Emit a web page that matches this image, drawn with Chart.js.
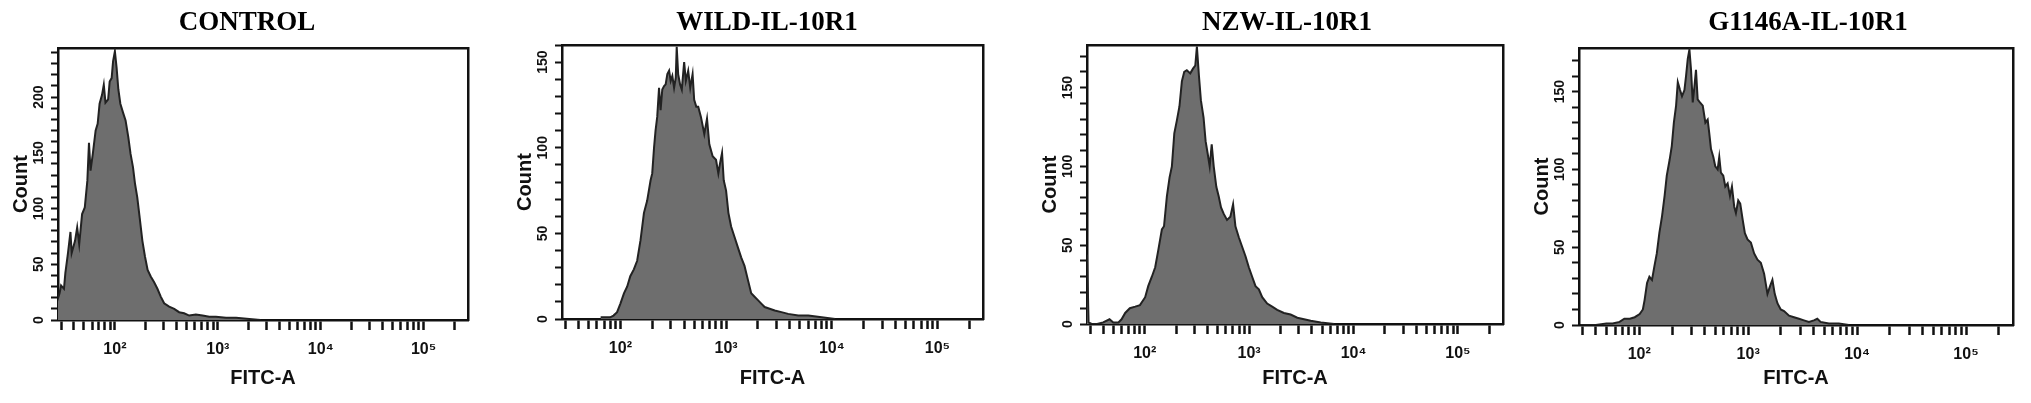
<!DOCTYPE html>
<html>
<head>
<meta charset="utf-8">
<script src="https://cdn.jsdelivr.net/npm/chart.js@4.4.1/dist/chart.umd.min.js"></script>
<style>
html, body { margin: 0; padding: 0; background: #fff; }
#wrap { position: relative; width: 2031px; height: 403px; overflow: hidden; }
#wrap canvas { position: absolute; top: 0; }
</style>
</head>
<body>
<div id="wrap"></div>
<script>
// panel titles
const panelTitles = ['CONTROL', 'WILD-IL-10R1', 'NZW-IL-10R1', 'G1146A-IL-10R1'];

// FITC-A channel values and counts
const ctrlX = [27, 29, 30, 32, 33, 35, 37, 38, 41, 43, 45, 48, 51, 54, 56, 58, 61, 65, 68, 71, 75, 78, 81, 86, 89, 93, 96, 100, 104, 108, 113, 120, 127, 135, 142, 150, 157, 165, 174, 185, 196, 208, 223, 240, 259, 279, 301, 337, 377, 421, 471, 527, 612, 711, 826, 959, 1202, 1506, 2028, 2600];
const ctrlY = [15, 24, 31, 28, 42, 60, 79, 60, 71, 83, 68, 95, 101, 125, 159, 134, 149, 170, 176, 194, 202, 211, 195, 198, 214, 217, 232, 241, 226, 207, 194, 186, 179, 164, 149, 137, 122, 110, 92, 71, 57, 45, 39, 34, 28, 21, 15, 12, 10, 7, 6, 4, 5, 4, 3, 3, 2, 2, 1, 0];

const wildX = [65, 80, 86, 93, 100, 108, 116, 124, 134, 144, 155, 167, 179, 193, 200, 208, 215, 223, 232, 240, 249, 259, 268, 278, 289, 299, 310, 322, 334, 341, 352, 367, 381, 401, 416, 438, 458, 482, 499, 522, 545, 578, 622, 660, 694, 746, 803, 845, 877, 916, 950, 1000, 1052, 1116, 1200, 1291, 1389, 1494, 1607, 1729, 1860, 2002, 2154, 2317, 2586, 2887, 3342, 3867, 4818, 6002, 8040, 10764];
const wildY = [1, 1, 2, 4, 9, 15, 19, 25, 29, 34, 46, 62, 69, 81, 85, 100, 110, 118, 135, 122, 134, 136, 137, 143, 145, 139, 142, 135, 141, 159, 143, 137, 134, 150, 139, 145, 135, 143, 128, 124, 124, 118, 108, 117, 102, 95, 93, 85, 91, 97, 81, 75, 62, 54, 48, 42, 36, 31, 23, 15, 13, 11, 9, 7, 6, 5, 4, 3, 2, 2, 1, 0];

const nzwX = [28, 29, 31, 35, 40, 46, 50, 56, 60, 65, 72, 81, 90, 101, 108, 117, 126, 135, 146, 153, 163, 173, 182, 192, 203, 215, 227, 239, 253, 273, 290, 305, 316, 331, 345, 366, 383, 401, 419, 438, 458, 485, 511, 538, 570, 614, 661, 702, 739, 796, 857, 923, 993, 1069, 1151, 1239, 1334, 1489, 1663, 1857, 2153, 2496, 2894, 3355, 3889, 4856, 6518];
const nzwY = [44, 1, 0, 0, 1, 3, 1, 1, 3, 7, 10, 11, 12, 17, 24, 30, 36, 47, 60, 62, 81, 93, 100, 121, 129, 138, 154, 160, 161, 159, 162, 164, 176, 157, 142, 131, 116, 108, 100, 114, 100, 87, 81, 74, 70, 66, 68, 76, 62, 55, 49, 43, 36, 30, 24, 22, 17, 13, 11, 9, 7, 6, 4, 3, 2, 1, 0];

const g1146aX = [29, 40, 50, 57, 66, 73, 82, 91, 101, 108, 112, 118, 124, 131, 138, 145, 153, 162, 171, 179, 190, 199, 208, 218, 226, 237, 247, 260, 269, 279, 289, 299, 310, 321, 332, 344, 361, 383, 405, 425, 440, 456, 479, 499, 525, 543, 562, 591, 617, 648, 681, 710, 745, 772, 811, 846, 889, 933, 987, 1059, 1135, 1218, 1307, 1401, 1504, 1589, 1670, 1754, 1857, 1991, 2136, 2373, 2636, 2928, 3252, 3613, 4015, 4313, 4624, 5509, 6800, 8399];
const g1146aY = [0, 0, 1, 1, 2, 4, 4, 5, 7, 10, 16, 27, 31, 29, 38, 46, 59, 70, 83, 96, 106, 115, 130, 141, 156, 151, 147, 151, 160, 171, 177, 164, 143, 153, 164, 145, 143, 141, 130, 132, 123, 113, 108, 102, 100, 108, 98, 96, 89, 91, 83, 89, 76, 72, 80, 78, 68, 59, 55, 53, 46, 42, 40, 33, 20, 25, 29, 20, 14, 10, 9, 6, 5, 4, 3, 2, 3, 4, 2, 1, 1, 0];

const seriesX = [ctrlX, wildX, nzwX, g1146aX];
const seriesY = [ctrlY, wildY, nzwY, g1146aY];
const countMax = [244, 160, 177, 178];

// log axis tick marks and the decade labels
const xTickValues = [30, 40, 50, 60, 70, 80, 90, 100, 200, 300, 400, 500, 600, 700, 800, 900,
  1000, 2000, 3000, 4000, 5000, 6000, 7000, 8000, 9000, 10000, 20000, 30000, 40000, 50000,
  60000, 70000, 80000, 90000, 100000, 200000];
const xMajorTicks = [100, 1000, 10000, 100000];
const xMajorLabels = ['10²', '10³', '10⁴', '10⁵'];

// where each panel sits on the page
const panelBoxes = [
  { left: 8,    width: 478, plotTop: 48, plotBottom: 320, rightW: 18 },
  { left: 512,  width: 510, plotTop: 45, plotBottom: 319, rightW: 39 },
  { left: 1037, width: 500, plotTop: 45, plotBottom: 324, rightW: 34 },
  { left: 1529, width: 558, plotTop: 48, plotBottom: 325, rightW: 74 }
];

const H = 403;
const sans = "'Liberation Sans', Arial, 'DejaVu Sans', sans-serif";
const ink = '#111';
const wrap = document.getElementById('wrap');

function makePanel(i) {
  const box = panelBoxes[i];
  const canvas = document.createElement('canvas');
  canvas.width = box.width;
  canvas.height = H;
  canvas.style.left = box.left + 'px';
  wrap.appendChild(canvas);

  const points = seriesX[i].map((x, k) => ({ x: x, y: seriesY[i][k] }));

  new Chart(canvas.getContext('2d'), {
    type: 'line',
    data: {
      datasets: [{
        data: points,
        fill: 'origin',
        backgroundColor: '#6e6e6e',
        borderColor: '#222',
        borderWidth: 2,
        pointRadius: 0,
        tension: 0
      }]
    },
    options: {
      responsive: false,
      animation: false,
      devicePixelRatio: 1,
      layout: { padding: 0 },
      plugins: {
        legend: { display: false },
        tooltip: { enabled: false },
        title: {
          display: true,
          text: panelTitles[i],
          color: '#000',
          font: { family: "'Liberation Serif', 'Times New Roman', serif", size: 27, weight: 'bold', lineHeight: 1.2 },
          padding: { top: 7, bottom: box.plotTop - 7 - 32.4 }
        }
      },
      scales: {
        x: {
          type: 'logarithmic',
          position: 'bottom',
          min: 28,
          max: 270000,
          afterBuildTicks: s => { s.ticks = xTickValues.map(v => ({ value: v })); },
          afterFit: s => { s.height = H - box.plotBottom; },
          grid: { display: true, drawOnChartArea: false, drawTicks: true, tickLength: 10, tickWidth: 2.5, tickColor: ink },
          border: { display: true, color: ink, width: 2.5 },
          ticks: {
            autoSkip: false, maxRotation: 0, minRotation: 0, padding: 10, color: ink,
            font: { family: sans, size: 16, weight: 'bold' },
            callback: v => {
              const k = xMajorTicks.indexOf(v);
              return k >= 0 ? xMajorLabels[k] : '';
            }
          },
          title: {
            display: true, text: 'FITC-A', color: ink,
            font: { family: sans, size: 20, weight: 'bold' },
            padding: { top: 0, bottom: 13 }
          }
        },
        y: {
          type: 'linear',
          position: 'left',
          min: 0,
          max: countMax[i],
          afterFit: s => { s.width = 50; },
          grid: { display: true, drawOnChartArea: false, drawTicks: true, tickLength: 7, tickWidth: 2, tickColor: ink },
          border: { display: true, color: ink, width: 2.5 },
          ticks: {
            stepSize: 10, autoSkip: false, includeBounds: false,
            minRotation: 90, maxRotation: 90, crossAlign: 'center', padding: 0, color: ink,
            font: { family: sans, size: 14, weight: 'bold' },
            callback: v => (v % 50 === 0 ? String(v) : '')
          },
          title: {
            display: true, text: 'Count', color: ink,
            font: { family: sans, size: 20, weight: 'bold' },
            padding: { top: 1, bottom: 0 }
          }
        },
        xTop: {
          type: 'linear', position: 'top',
          afterFit: s => { s.height = 0; },
          grid: { display: false },
          ticks: { display: false },
          border: { display: true, color: ink, width: 2.5 }
        },
        yRight: {
          type: 'linear', position: 'right',
          afterFit: s => { s.width = box.rightW; },
          grid: { display: false },
          ticks: { display: false },
          border: { display: true, color: ink, width: 2.5 }
        }
      }
    }
  });
}

for (let i = 0; i < panelTitles.length; i++) makePanel(i);
</script>
</body>
</html>
